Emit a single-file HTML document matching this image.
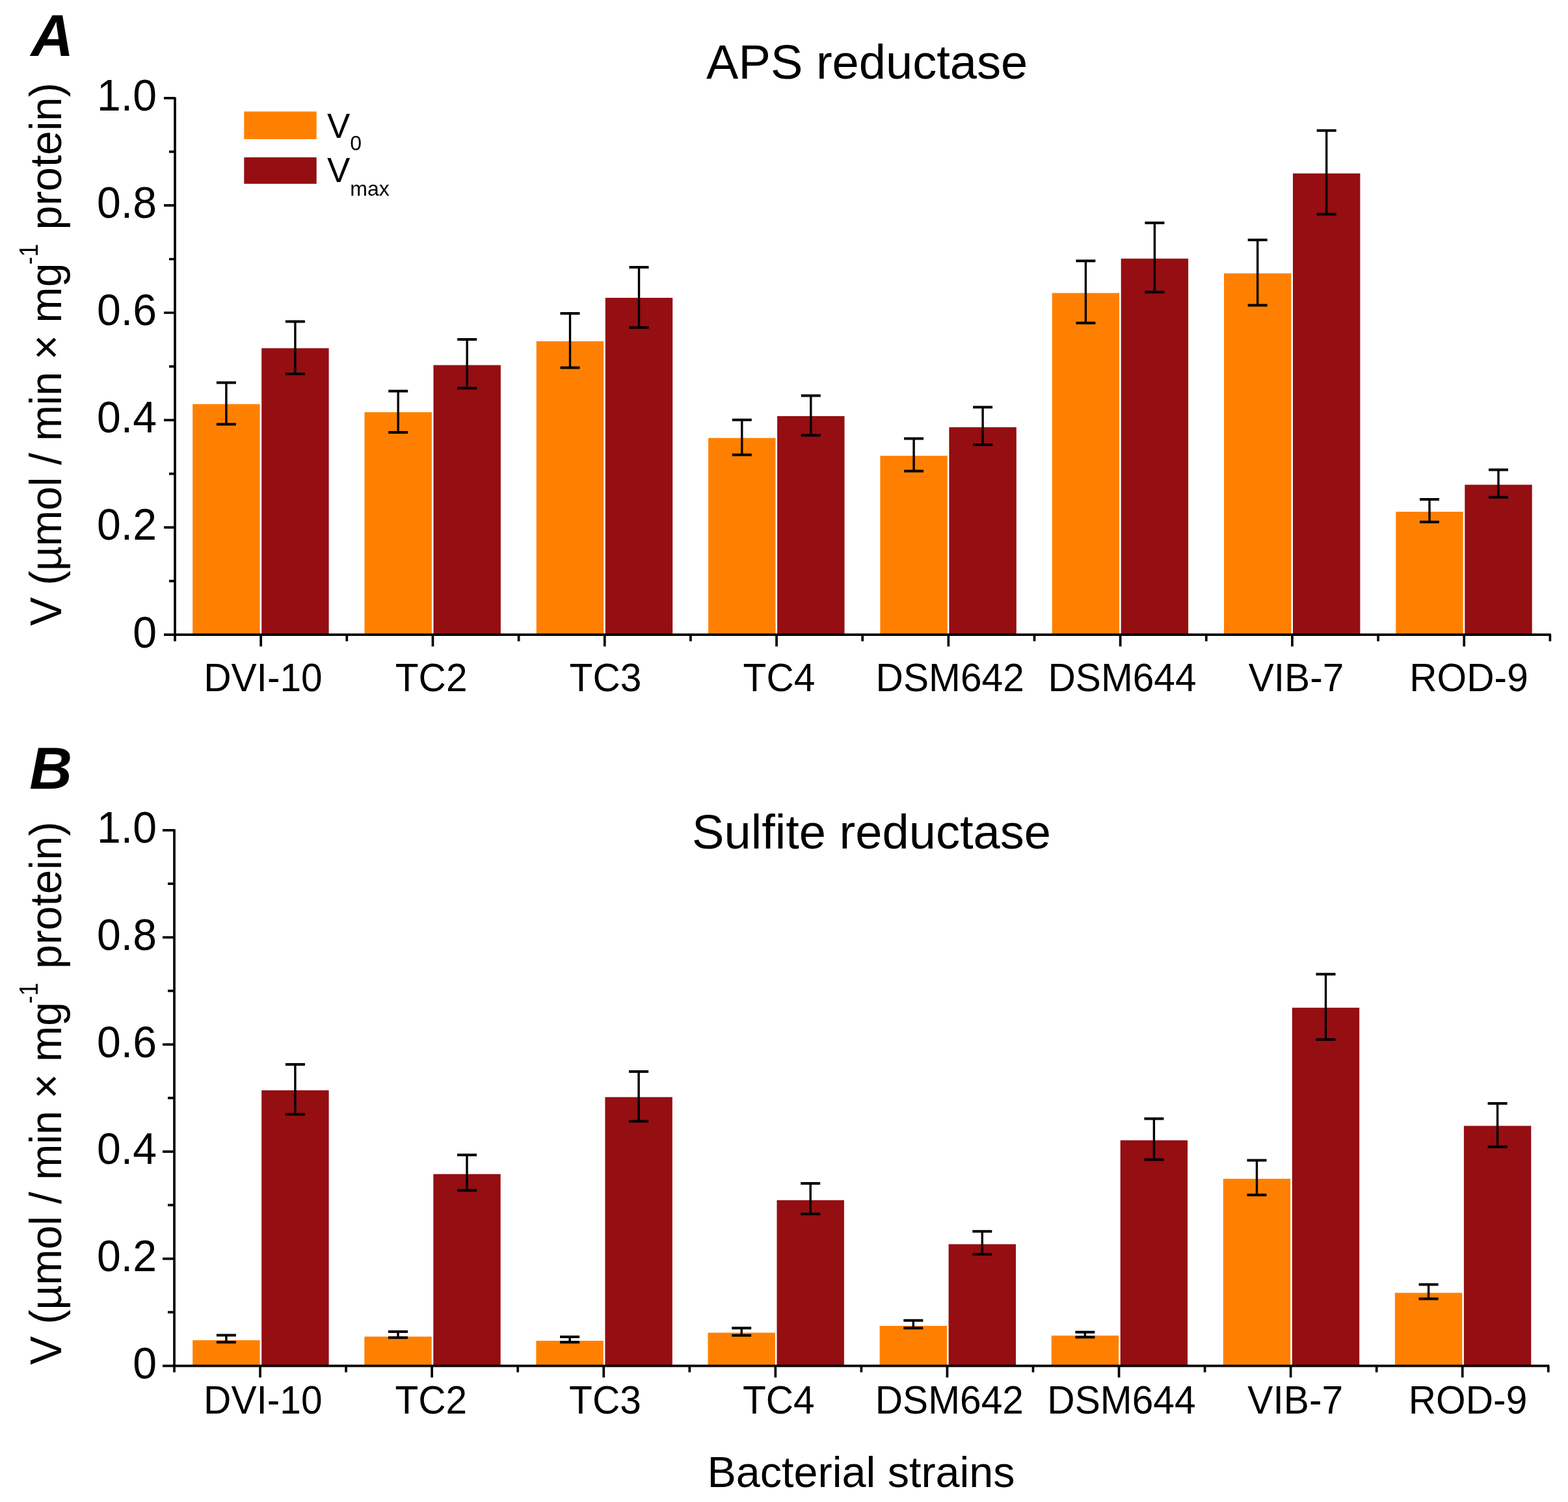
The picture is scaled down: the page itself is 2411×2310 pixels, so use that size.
<!DOCTYPE html>
<html><head><meta charset="utf-8"><title>APS and sulfite reductase activity</title>
<style>
html,body{margin:0;padding:0;background:#fff;}
body{width:2411px;height:2310px;overflow:hidden;}
svg{display:block;}
text{font-family:'Liberation Sans', Arial, Helvetica, sans-serif;fill:#000;}
.tk{font-size:68.9px;}
.xl{font-size:61.3px;}
.ti{font-size:74.1px;}
.yl{font-size:68px;}
.sup{font-size:40px;}
.xt{font-size:66.5px;}
.lg{font-size:53px;}
.lgs{font-size:32px;}
.pl{font-size:91px;font-weight:bold;font-style:italic;}
</style></head>
<body>
<svg width="2411" height="2310" viewBox="0 0 2411 2310">
<rect width="2411" height="2310" fill="#fff"/>
<rect x="296.2" y="621.5" width="103.4" height="354.7" fill="#FF8000"/>
<rect x="402.2" y="535.5" width="103.4" height="440.7" fill="#940E12"/>
<rect x="560.5" y="634" width="103.4" height="342.2" fill="#FF8000"/>
<rect x="666.5" y="561.5" width="103.4" height="414.7" fill="#940E12"/>
<rect x="824.8" y="524.8" width="103.4" height="451.4" fill="#FF8000"/>
<rect x="930.8" y="458" width="103.4" height="518.2" fill="#940E12"/>
<rect x="1089.1" y="673.6" width="103.4" height="302.6" fill="#FF8000"/>
<rect x="1195.1" y="640" width="103.4" height="336.2" fill="#940E12"/>
<rect x="1353.4" y="700.9" width="103.4" height="275.3" fill="#FF8000"/>
<rect x="1459.4" y="657.1" width="103.4" height="319.1" fill="#940E12"/>
<rect x="1617.7" y="450.6" width="103.4" height="525.6" fill="#FF8000"/>
<rect x="1723.7" y="397.7" width="103.4" height="578.5" fill="#940E12"/>
<rect x="1882" y="420.4" width="103.4" height="555.8" fill="#FF8000"/>
<rect x="1988" y="266.7" width="103.4" height="709.5" fill="#940E12"/>
<rect x="2146.3" y="787" width="103.4" height="189.2" fill="#FF8000"/>
<rect x="2252.3" y="745.5" width="103.4" height="230.7" fill="#940E12"/>
<path d="M347.9 588.4V652.6" stroke="#000" stroke-width="3.4" fill="none"/>
<path d="M332.9 588.4H362.9M332.9 652.6H362.9" stroke="#000" stroke-width="4.0" fill="none"/>
<path d="M453.9 494.4V575" stroke="#000" stroke-width="3.4" fill="none"/>
<path d="M438.9 494.4H468.9M438.9 575H468.9" stroke="#000" stroke-width="4.0" fill="none"/>
<path d="M612.2 601.5V665" stroke="#000" stroke-width="3.4" fill="none"/>
<path d="M597.2 601.5H627.2M597.2 665H627.2" stroke="#000" stroke-width="4.0" fill="none"/>
<path d="M718.2 522V597" stroke="#000" stroke-width="3.4" fill="none"/>
<path d="M703.2 522H733.2M703.2 597H733.2" stroke="#000" stroke-width="4.0" fill="none"/>
<path d="M876.5 482V565.4" stroke="#000" stroke-width="3.4" fill="none"/>
<path d="M861.5 482H891.5M861.5 565.4H891.5" stroke="#000" stroke-width="4.0" fill="none"/>
<path d="M982.5 411.1V503.7" stroke="#000" stroke-width="3.4" fill="none"/>
<path d="M967.5 411.1H997.5M967.5 503.7H997.5" stroke="#000" stroke-width="4.0" fill="none"/>
<path d="M1140.8 645.8V699.4" stroke="#000" stroke-width="3.4" fill="none"/>
<path d="M1125.8 645.8H1155.8M1125.8 699.4H1155.8" stroke="#000" stroke-width="4.0" fill="none"/>
<path d="M1246.8 608.5V669.5" stroke="#000" stroke-width="3.4" fill="none"/>
<path d="M1231.8 608.5H1261.8M1231.8 669.5H1261.8" stroke="#000" stroke-width="4.0" fill="none"/>
<path d="M1405.1 674.5V724.5" stroke="#000" stroke-width="3.4" fill="none"/>
<path d="M1390.1 674.5H1420.1M1390.1 724.5H1420.1" stroke="#000" stroke-width="4.0" fill="none"/>
<path d="M1511.1 626.3V684.1" stroke="#000" stroke-width="3.4" fill="none"/>
<path d="M1496.1 626.3H1526.1M1496.1 684.1H1526.1" stroke="#000" stroke-width="4.0" fill="none"/>
<path d="M1669.4 401.2V496.7" stroke="#000" stroke-width="3.4" fill="none"/>
<path d="M1654.4 401.2H1684.4M1654.4 496.7H1684.4" stroke="#000" stroke-width="4.0" fill="none"/>
<path d="M1775.4 342.8V449.2" stroke="#000" stroke-width="3.4" fill="none"/>
<path d="M1760.4 342.8H1790.4M1760.4 449.2H1790.4" stroke="#000" stroke-width="4.0" fill="none"/>
<path d="M1933.7 369V469.5" stroke="#000" stroke-width="3.4" fill="none"/>
<path d="M1918.7 369H1948.7M1918.7 469.5H1948.7" stroke="#000" stroke-width="4.0" fill="none"/>
<path d="M2039.7 200.8V329.4" stroke="#000" stroke-width="3.4" fill="none"/>
<path d="M2024.7 200.8H2054.7M2024.7 329.4H2054.7" stroke="#000" stroke-width="4.0" fill="none"/>
<path d="M2198 767.9V802.7" stroke="#000" stroke-width="3.4" fill="none"/>
<path d="M2183 767.9H2213M2183 802.7H2213" stroke="#000" stroke-width="4.0" fill="none"/>
<path d="M2304 722.4V764.8" stroke="#000" stroke-width="3.4" fill="none"/>
<path d="M2289 722.4H2319M2289 764.8H2319" stroke="#000" stroke-width="4.0" fill="none"/>
<path d="M269 149.4V986.2M252 976.2H2384.9M252 976.2H269M260 893.67H269M252 811.14H269M260 728.61H269M252 646.08H269M260 563.55H269M252 481.02H269M260 398.49H269M252 315.96H269M260 233.43H269M252 150.9H269M533.3 976.2V986.2M797.6 976.2V986.2M1061.9 976.2V986.2M1326.2 976.2V986.2M1590.5 976.2V986.2M1854.8 976.2V986.2M2119.1 976.2V986.2M2383.4 976.2V986.2M401.15 976.2V994.2M665.45 976.2V994.2M929.75 976.2V994.2M1194.05 976.2V994.2M1458.35 976.2V994.2M1722.65 976.2V994.2M1986.95 976.2V994.2M2251.25 976.2V994.2" stroke="#000" stroke-width="3.7" fill="none"/>
<text transform="translate(241 995.5) scale(0.96 1)" text-anchor="end" class="tk">0</text>
<text transform="translate(241 830.44) scale(0.96 1)" text-anchor="end" class="tk">0.2</text>
<text transform="translate(241 665.38) scale(0.96 1)" text-anchor="end" class="tk">0.4</text>
<text transform="translate(241 500.32) scale(0.96 1)" text-anchor="end" class="tk">0.6</text>
<text transform="translate(241 335.26) scale(0.96 1)" text-anchor="end" class="tk">0.8</text>
<text transform="translate(241 170.2) scale(0.96 1)" text-anchor="end" class="tk">1.0</text>
<text transform="translate(404.4 1062.5) scale(0.957 1)" text-anchor="middle" class="xl">DVI-10</text>
<text transform="translate(663.1 1062.5) scale(0.957 1)" text-anchor="middle" class="xl">TC2</text>
<text transform="translate(931 1062.5) scale(0.957 1)" text-anchor="middle" class="xl">TC3</text>
<text transform="translate(1198 1062.5) scale(0.957 1)" text-anchor="middle" class="xl">TC4</text>
<text transform="translate(1460.7 1062.5) scale(0.957 1)" text-anchor="middle" class="xl">DSM642</text>
<text transform="translate(1725.5 1062.5) scale(0.957 1)" text-anchor="middle" class="xl">DSM644</text>
<text transform="translate(1993 1062.5) scale(0.957 1)" text-anchor="middle" class="xl">VIB-7</text>
<text transform="translate(2258.5 1062.5) scale(0.957 1)" text-anchor="middle" class="xl">ROD-9</text>
<text x="1086.06" y="121.1" class="ti">APS reductase</text>
<text transform="translate(94 962.6) rotate(-90) scale(0.9726 1)" class="yl">V (µmol / min × mg</text>
<text transform="translate(58.3 407.1) rotate(-90) scale(0.9 1)" class="sup">-1</text>
<text transform="translate(94 353.5) rotate(-90) scale(0.982 1)" class="yl">protein)</text>
<rect x="296.2" y="2061.2" width="103.4" height="39.4" fill="#FF8000"/>
<rect x="402.2" y="1676.8" width="103.4" height="423.8" fill="#940E12"/>
<rect x="560.3" y="2055.6" width="103.4" height="45" fill="#FF8000"/>
<rect x="666.3" y="1805.7" width="103.4" height="294.9" fill="#940E12"/>
<rect x="824.4" y="2062" width="103.4" height="38.6" fill="#FF8000"/>
<rect x="930.4" y="1687.3" width="103.4" height="413.3" fill="#940E12"/>
<rect x="1088.5" y="2049.6" width="103.4" height="51" fill="#FF8000"/>
<rect x="1194.5" y="1845.8" width="103.4" height="254.8" fill="#940E12"/>
<rect x="1352.6" y="2039.1" width="103.4" height="61.5" fill="#FF8000"/>
<rect x="1458.6" y="1913.5" width="103.4" height="187.1" fill="#940E12"/>
<rect x="1616.7" y="2054.1" width="103.4" height="46.5" fill="#FF8000"/>
<rect x="1722.7" y="1753.7" width="103.4" height="346.9" fill="#940E12"/>
<rect x="1880.8" y="1812.9" width="103.4" height="287.7" fill="#FF8000"/>
<rect x="1986.8" y="1549.8" width="103.4" height="550.8" fill="#940E12"/>
<rect x="2144.9" y="1988.3" width="103.4" height="112.3" fill="#FF8000"/>
<rect x="2250.9" y="1731.5" width="103.4" height="369.1" fill="#940E12"/>
<path d="M347.9 2053.5V2064.3" stroke="#000" stroke-width="3.4" fill="none"/>
<path d="M332.9 2053.5H362.9M332.9 2064.3H362.9" stroke="#000" stroke-width="4.0" fill="none"/>
<path d="M453.9 1636.9V1713.8" stroke="#000" stroke-width="3.4" fill="none"/>
<path d="M438.9 1636.9H468.9M438.9 1713.8H468.9" stroke="#000" stroke-width="4.0" fill="none"/>
<path d="M612 2048V2057.3" stroke="#000" stroke-width="3.4" fill="none"/>
<path d="M597 2048H627M597 2057.3H627" stroke="#000" stroke-width="4.0" fill="none"/>
<path d="M718 1776.2V1830.7" stroke="#000" stroke-width="3.4" fill="none"/>
<path d="M703 1776.2H733M703 1830.7H733" stroke="#000" stroke-width="4.0" fill="none"/>
<path d="M876.1 2055.9V2064.2" stroke="#000" stroke-width="3.4" fill="none"/>
<path d="M861.1 2055.9H891.1M861.1 2064.2H891.1" stroke="#000" stroke-width="4.0" fill="none"/>
<path d="M982.1 1648V1724.4" stroke="#000" stroke-width="3.4" fill="none"/>
<path d="M967.1 1648H997.1M967.1 1724.4H997.1" stroke="#000" stroke-width="4.0" fill="none"/>
<path d="M1140.2 2042.4V2053.7" stroke="#000" stroke-width="3.4" fill="none"/>
<path d="M1125.2 2042.4H1155.2M1125.2 2053.7H1155.2" stroke="#000" stroke-width="4.0" fill="none"/>
<path d="M1246.2 1820V1867" stroke="#000" stroke-width="3.4" fill="none"/>
<path d="M1231.2 1820H1261.2M1231.2 1867H1261.2" stroke="#000" stroke-width="4.0" fill="none"/>
<path d="M1404.3 2030.8V2042.4" stroke="#000" stroke-width="3.4" fill="none"/>
<path d="M1389.3 2030.8H1419.3M1389.3 2042.4H1419.3" stroke="#000" stroke-width="4.0" fill="none"/>
<path d="M1510.3 1893.7V1929" stroke="#000" stroke-width="3.4" fill="none"/>
<path d="M1495.3 1893.7H1525.3M1495.3 1929H1525.3" stroke="#000" stroke-width="4.0" fill="none"/>
<path d="M1668.4 2048.7V2056.4" stroke="#000" stroke-width="3.4" fill="none"/>
<path d="M1653.4 2048.7H1683.4M1653.4 2056.4H1683.4" stroke="#000" stroke-width="4.0" fill="none"/>
<path d="M1774.4 1720.6V1783.5" stroke="#000" stroke-width="3.4" fill="none"/>
<path d="M1759.4 1720.6H1789.4M1759.4 1783.5H1789.4" stroke="#000" stroke-width="4.0" fill="none"/>
<path d="M1932.5 1784.5V1837.7" stroke="#000" stroke-width="3.4" fill="none"/>
<path d="M1917.5 1784.5H1947.5M1917.5 1837.7H1947.5" stroke="#000" stroke-width="4.0" fill="none"/>
<path d="M2038.5 1498.2V1598.8" stroke="#000" stroke-width="3.4" fill="none"/>
<path d="M2023.5 1498.2H2053.5M2023.5 1598.8H2053.5" stroke="#000" stroke-width="4.0" fill="none"/>
<path d="M2196.6 1975.6V1997.4" stroke="#000" stroke-width="3.4" fill="none"/>
<path d="M2181.6 1975.6H2211.6M2181.6 1997.4H2211.6" stroke="#000" stroke-width="4.0" fill="none"/>
<path d="M2302.6 1697V1763.7" stroke="#000" stroke-width="3.4" fill="none"/>
<path d="M2287.6 1697H2317.6M2287.6 1763.7H2317.6" stroke="#000" stroke-width="4.0" fill="none"/>
<path d="M268 1275.3V2110.6M250 2100.6H2382.3M250 2100.6H268M258 2018.22H268M250 1935.84H268M258 1853.46H268M250 1771.08H268M258 1688.7H268M250 1606.32H268M258 1523.94H268M250 1441.56H268M258 1359.18H268M250 1276.8H268M532.1 2100.6V2110.6M796.2 2100.6V2110.6M1060.3 2100.6V2110.6M1324.4 2100.6V2110.6M1588.5 2100.6V2110.6M1852.6 2100.6V2110.6M2116.7 2100.6V2110.6M2380.8 2100.6V2110.6M400.05 2100.6V2118.6M664.15 2100.6V2118.6M928.25 2100.6V2118.6M1192.35 2100.6V2118.6M1456.45 2100.6V2118.6M1720.55 2100.6V2118.6M1984.65 2100.6V2118.6M2248.75 2100.6V2118.6" stroke="#000" stroke-width="3.7" fill="none"/>
<text transform="translate(241 2119.9) scale(0.96 1)" text-anchor="end" class="tk">0</text>
<text transform="translate(241 1955.14) scale(0.96 1)" text-anchor="end" class="tk">0.2</text>
<text transform="translate(241 1790.38) scale(0.96 1)" text-anchor="end" class="tk">0.4</text>
<text transform="translate(241 1625.62) scale(0.96 1)" text-anchor="end" class="tk">0.6</text>
<text transform="translate(241 1460.86) scale(0.96 1)" text-anchor="end" class="tk">0.8</text>
<text transform="translate(241 1296.1) scale(0.96 1)" text-anchor="end" class="tk">1.0</text>
<text transform="translate(404.3 2174) scale(0.957 1)" text-anchor="middle" class="xl">DVI-10</text>
<text transform="translate(662.8 2174) scale(0.957 1)" text-anchor="middle" class="xl">TC2</text>
<text transform="translate(930.5 2174) scale(0.957 1)" text-anchor="middle" class="xl">TC3</text>
<text transform="translate(1197.3 2174) scale(0.957 1)" text-anchor="middle" class="xl">TC4</text>
<text transform="translate(1459.8 2174) scale(0.957 1)" text-anchor="middle" class="xl">DSM642</text>
<text transform="translate(1724.4 2174) scale(0.957 1)" text-anchor="middle" class="xl">DSM644</text>
<text transform="translate(1991.7 2174) scale(0.957 1)" text-anchor="middle" class="xl">VIB-7</text>
<text transform="translate(2257 2174) scale(0.957 1)" text-anchor="middle" class="xl">ROD-9</text>
<text x="1064.1" y="1304.9" class="ti">Sulfite reductase</text>
<text transform="translate(94 2099.1) rotate(-90) scale(0.9726 1)" class="yl">V (µmol / min × mg</text>
<text transform="translate(58.3 1543.6) rotate(-90) scale(0.9 1)" class="sup">-1</text>
<text transform="translate(94 1490) rotate(-90) scale(0.982 1)" class="yl">protein)</text>
<rect x="375.3" y="171.5" width="111.4" height="42.5" fill="#FF8000"/>
<rect x="375.3" y="242" width="111.4" height="40.7" fill="#940E12"/>
<text x="503" y="211.7" class="lg">V<tspan class="lgs" dy="19">0</tspan></text>
<text x="503" y="279.7" class="lg">V<tspan class="lgs" dy="21.5">max</tspan></text>
<text x="47.4" y="86" class="pl">A</text>
<text x="45.2" y="1213" class="pl">B</text>
<text x="1087.5" y="2287" class="xt">Bacterial strains</text>
</svg>
</body></html>
